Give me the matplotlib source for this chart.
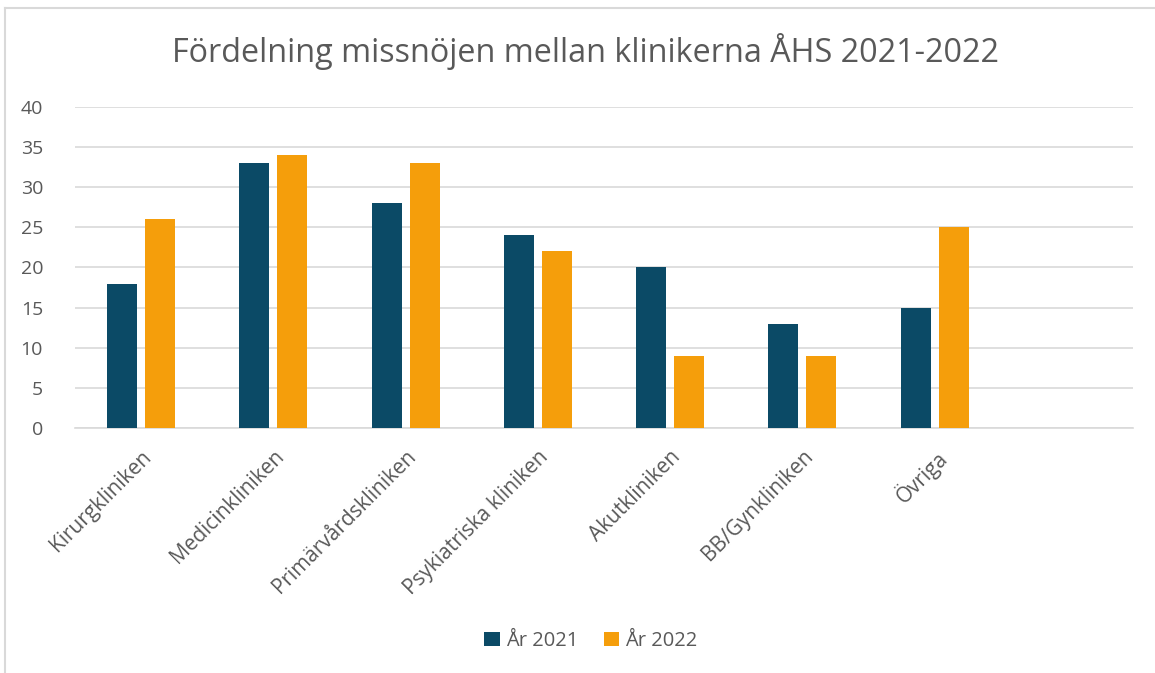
import matplotlib.pyplot as plt
from matplotlib.lines import Line2D
import numpy as np

plt.rcParams['font.family'] = ['Open Sans', 'DejaVu Sans']

# data
kliniker = ['Kirurgkliniken', 'Medicinkliniken', 'Primärvårdskliniken',
            'Psykiatriska kliniken', 'Akutkliniken', 'BB/Gynkliniken', 'Övriga', '']
ar_2021 = [18, 33, 28, 24, 20, 13, 15, np.nan]
ar_2022 = [26, 34, 33, 22, 9, 9, 25, np.nan]
serier = ['År 2021', 'År 2022']

c21 = '#0B4A66'
c22 = '#F59E0B'
txt = '#595959'
grid = '#D9D9D9'

W, H = 1155, 673
fig = plt.figure(figsize=(W / 100, H / 100), dpi=100)
ax = fig.add_axes([75 / W, 1 - 428 / H, (1133 - 75) / W, (428 - 107) / H])

x = np.arange(len(kliniker))
bw = 0.227
off = 0.144
ax.bar(x - off, ar_2021, bw, color=c21, label=serier[0], zorder=3)
ax.bar(x + off, ar_2022, bw, color=c22, label=serier[1], zorder=3)

ax.set_xlim(-0.5, len(kliniker) - 0.5)
ax.set_ylim(0, 40)
ax.set_yticks(range(0, 41, 5))
ax.yaxis.grid(True, color=grid, linewidth=1.2, zorder=0)
ax.set_axisbelow(True)
for s in ['top', 'right', 'left']:
    ax.spines[s].set_visible(False)
ax.spines['bottom'].set_color(grid)
ax.spines['bottom'].set_linewidth(1.2)
ax.tick_params(axis='both', length=0, colors=txt, labelsize=14)
ax.tick_params(axis='y', pad=23)

ax.set_xticks(x)
ax.set_xticklabels(kliniker, rotation=45, ha='right', va='top',
                   rotation_mode='anchor', color=txt, fontsize=15)
ax.tick_params(axis='x', pad=13)

fig.text(586 / W, 1 - 52 / H, 'Fördelning missnöjen mellan klinikerna ÅHS 2021-2022',
         ha='center', va='center', fontsize=23.3, color=txt)

leg = fig.legend(loc='center', bbox_to_anchor=(591 / W, 1 - 641 / H), ncol=2,
                 frameon=False, fontsize=14.5, handlelength=0.75, handleheight=0.75,
                 handletextpad=0.3, columnspacing=1.3)
for t in leg.get_texts():
    t.set_color(txt)

# chart frame
fig.add_artist(Line2D([5 / W, 5 / W], [0, 1 - 8 / H], color=grid, linewidth=1.5))
fig.add_artist(Line2D([5 / W, 1], [1 - 8 / H, 1 - 8 / H], color=grid, linewidth=1.5))

fig.savefig('out.png', dpi=100, facecolor='white')
